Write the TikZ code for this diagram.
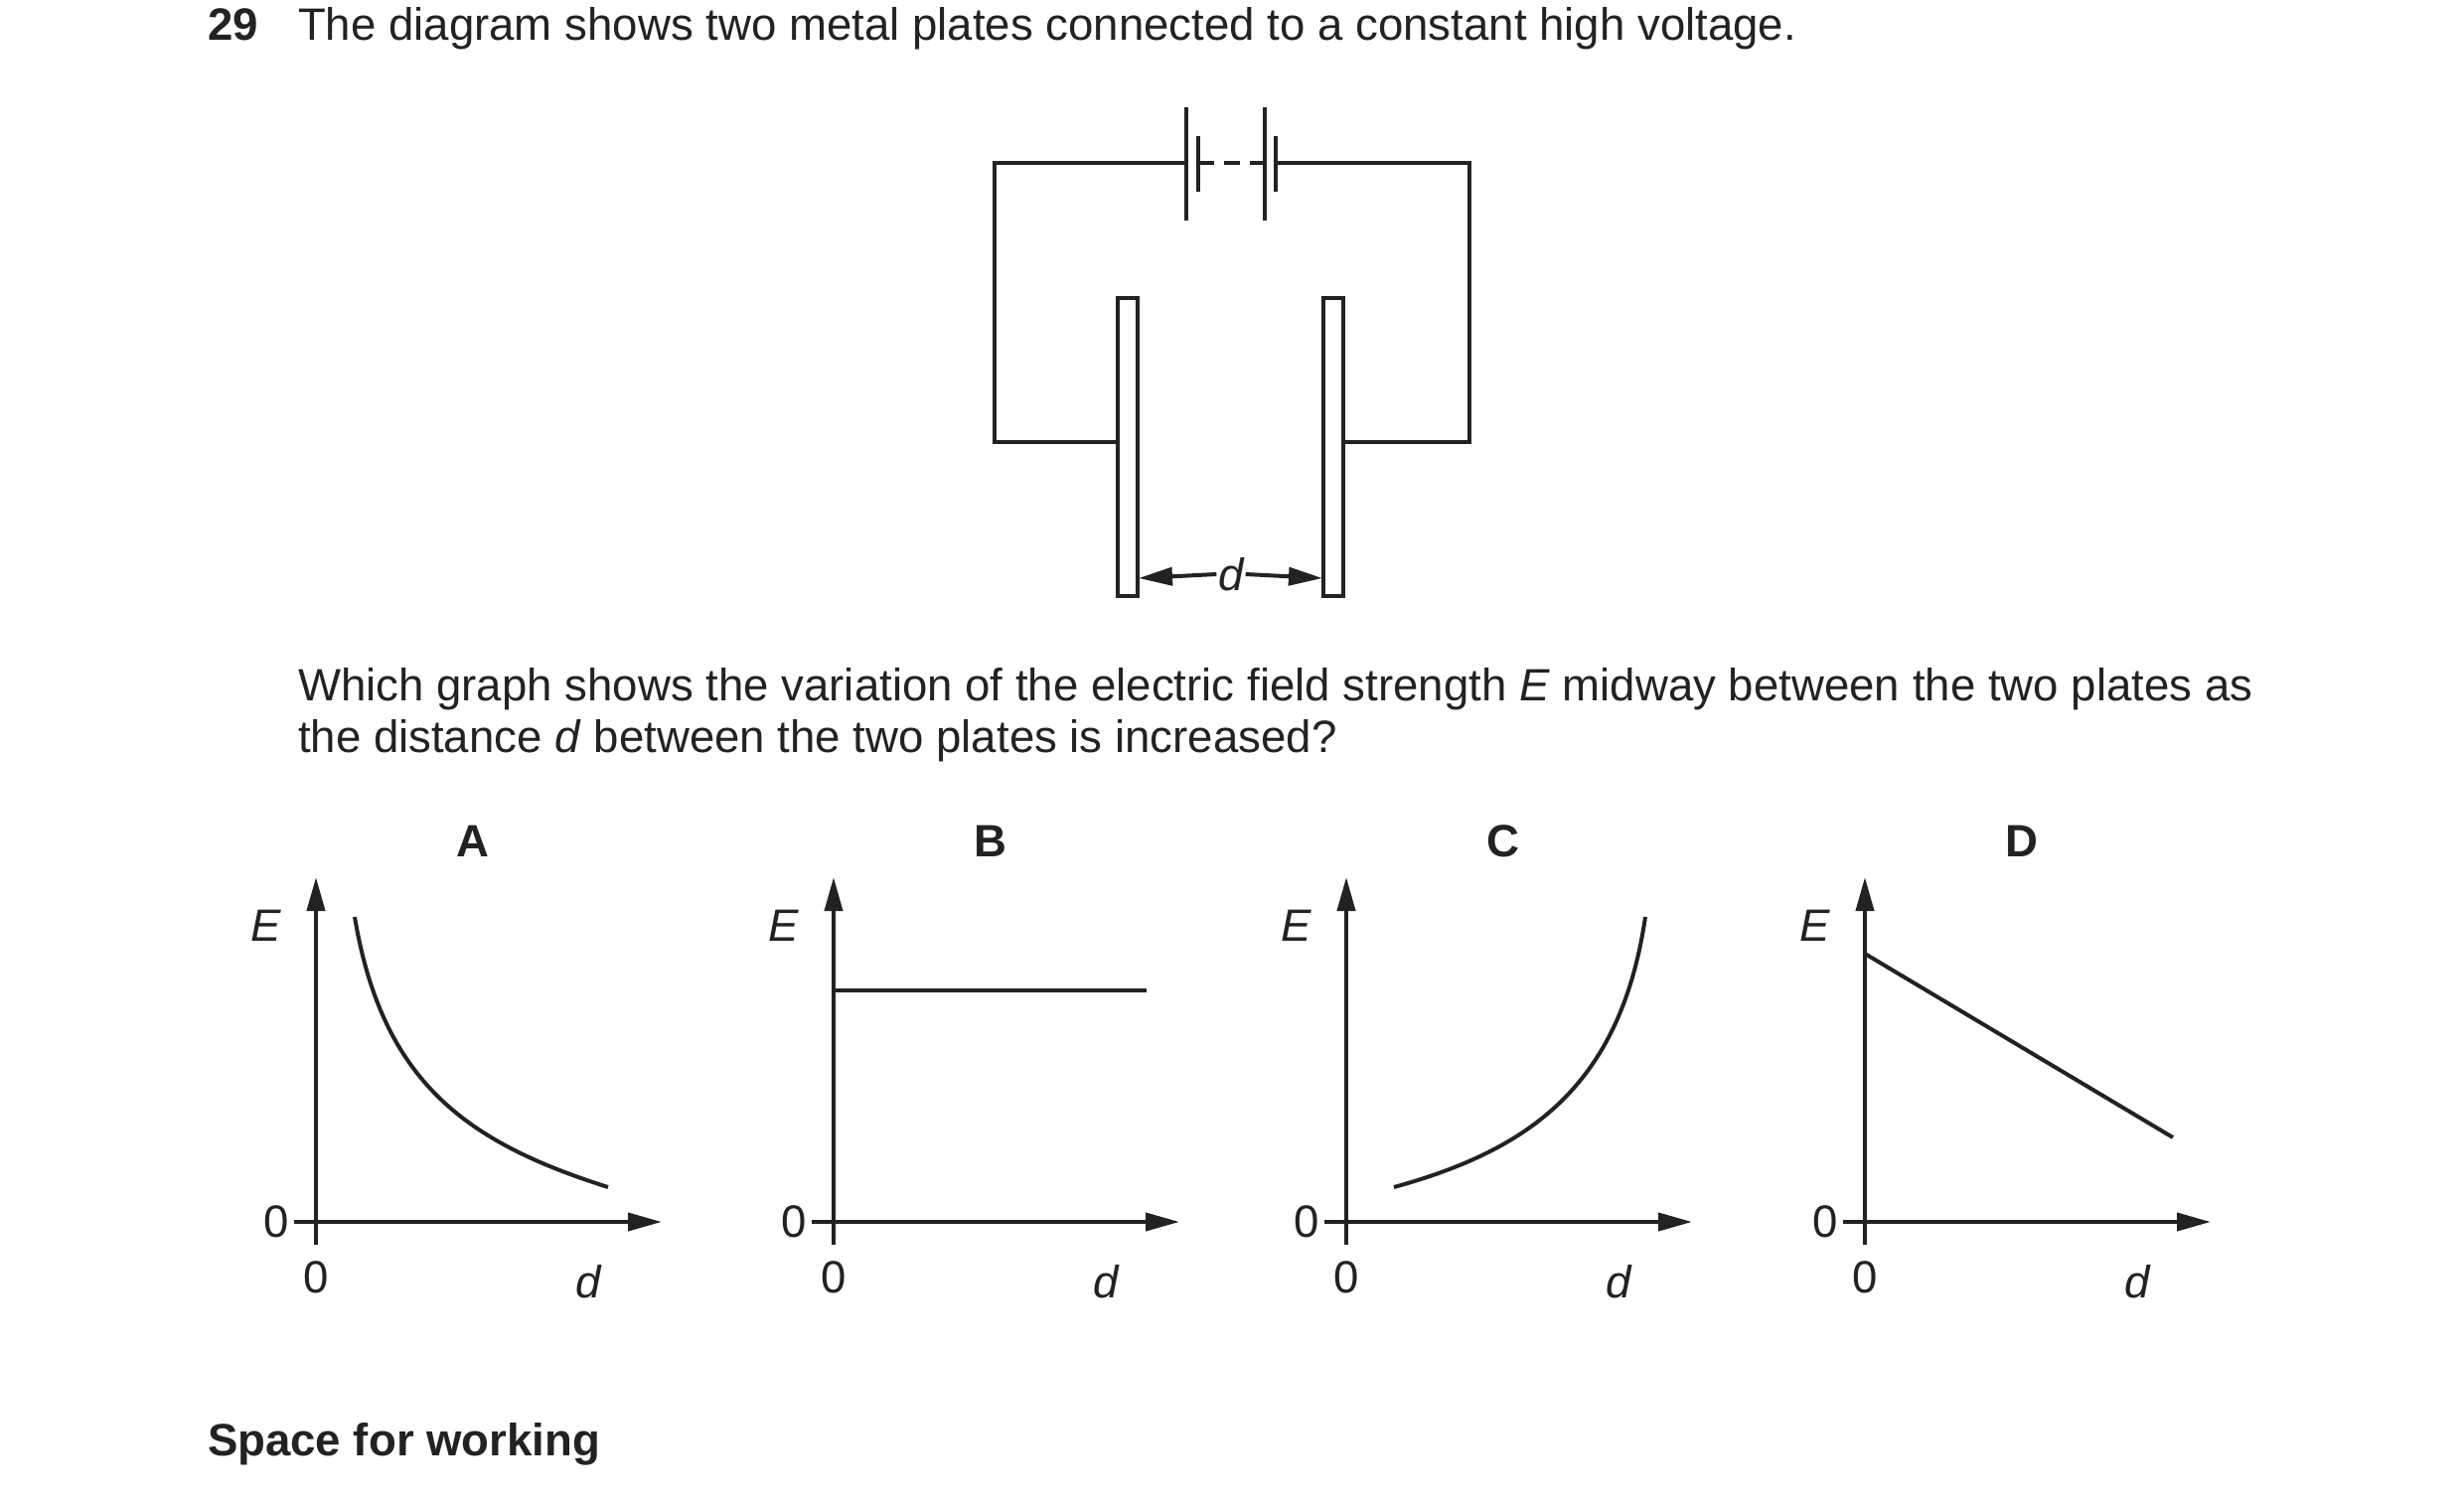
\documentclass[tikz,border=0pt]{standalone}
\usepackage{fontspec}
\setmainfont{Liberation Sans}
\usetikzlibrary{arrows.meta}
\begin{document}
\begin{tikzpicture}[x=0.5pt,y=-0.5pt,line width=2pt,
  txt/.style={inner sep=0pt,font=\fontsize{22.8}{26}\selectfont},
  lbl/.style={txt,anchor=base west},
  ax/.style={-{Triangle[length=17pt,width=9pt]}},
  wire/.style={line join=miter}]
\useasboundingbox (0,0) rectangle (2480,1516);
\color[HTML]{222222}
% header
\node[lbl] (num) at (207,40) {\textbf{29}};
\node[lbl] (q1) at (298,40) {The diagram shows two metal plates connected to a constant high voltage.};
% circuit
\draw[wire] (1194,164) -- (1001,164) -- (1001,445) -- (1125,445);
\draw[wire] (1284,164) -- (1479,164) -- (1479,445) -- (1352,445);
\draw (1194,108) -- (1194,222);
\draw (1206,137) -- (1206,193);
\draw (1273,108) -- (1273,222);
\draw (1284,137) -- (1284,193);
\draw[dash pattern=on 8pt off 5pt] (1206,164) -- (1273,164);
\node[draw,minimum width=10pt,minimum height=150pt,inner sep=0pt] (p1) at (1135,450) {};
\node[draw,minimum width=10pt,minimum height=150pt,inner sep=0pt] (p2) at (1342,450) {};
\node[txt,font=\fontsize{22.8}{26}\selectfont\itshape] (dl) at (1239,578) {d};
\coordinate (a1) at (1146,582); \coordinate (a2) at (1331,582);
\draw[{Triangle[length=17pt,width=9pt]}-] (a1) -- (dl.west);
\draw[-{Triangle[length=17pt,width=9pt]}] (dl.east) -- (a2);
% question
\node[lbl] (q2) at (298,705) {Which graph shows the variation of the electric field strength \textit{E} midway between the two plates as};
\node[lbl] (q3) at (298,757) {the distance \textit{d} between the two plates is increased?};
% graphs
\foreach \ox/\L [count=\i] in {318/A,839/B,1355/C,1877/D}{
  \coordinate (o\i) at (\ox,1230);
  \draw[ax] (\ox,1253) -- (\ox,883);
  \draw[ax] (\ox-22,1230) -- (\ox+348,1230);
  \node[txt,font=\fontsize{22.8}{26}\selectfont\bfseries] (L\i) at (\ox+158,847) {\L};
  \node[txt,font=\fontsize{22.8}{26}\selectfont\itshape] (E\i) at (\ox-50,932) {E};
  \node[txt] (zy\i) at (\ox-40,1230) {0};
  \node[txt] (zx\i) at (\ox,1286) {0};
  \node[txt,font=\fontsize{22.8}{26}\selectfont\itshape] (dd\i) at (\ox+274,1290) {d};
}
\draw (357,923) .. controls (385,1090) and (470,1150) .. (612,1195);
\draw (839,997) -- (1154,997);
\draw (1403,1195) .. controls (1541,1157) and (1631,1092) .. (1656,923);
\draw (1877,960) -- (2187,1145);
\node[lbl] (sw) at (207,1465) {\textbf{Space for working}};
\end{tikzpicture}
\end{document}
